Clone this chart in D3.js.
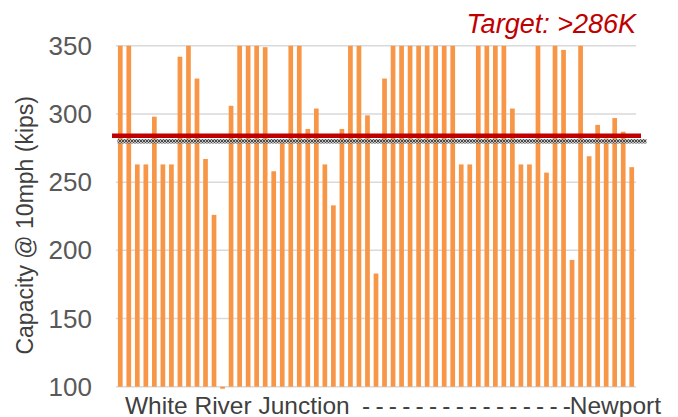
<!DOCTYPE html>
<html>
<head>
<meta charset="utf-8">
<script src="https://cdn.jsdelivr.net/npm/d3@7"></script>
<style>
  body { margin: 0; background: #fff; }
  svg { display: block; }
  text { font-family: "Liberation Sans", Arial, sans-serif; }
</style>
</head>
<body>
<svg id="chart" width="678" height="417"></svg>
<script>
// bridge capacity per structure, White River Junction -> Newport (kips, clipped at 350)
const capacity = [
  350, 350, 263, 263, 298, 263, 263, 342, 350, 326,
  267, 226, 98.5, 306, 350, 350, 350, 349, 258, 280,
  350, 350, 289, 304, 263, 233, 289, 350, 350, 299,
  183, 326, 350, 350, 350, 350, 350, 350, 350, 350,
  263, 263, 350, 350, 350, 350, 304, 263, 263, 350,
  257, 350, 347, 193, 350, 269, 292, 282, 297, 287,
  261
];
const yTicks = [100, 150, 200, 250, 300, 350];
const targetLine = [284];     // red target line as drawn
const referenceBand = [280];  // hatched reference band
const targetLabel = "Target: >286K";
const yTitle = "Capacity @ 10mph (kips)";
const endLabels = ["White River Junction", "Newport"];
const dashCount = 16;

const margin = { top: 45.8, right: 42, bottom: 30.3, left: 116 };
const W = 678, H = 417;

const svg = d3.select("#chart");

const x = d3.scaleBand()
  .domain(d3.range(capacity.length))
  .range([margin.left, W - margin.right])
  .paddingInner(0.45)
  .paddingOuter(0.225);

const y = d3.scaleLinear()
  .domain([100, 350])
  .range([H - margin.bottom, margin.top]);

// hatch pattern for the reference band
const defs = svg.append("defs");
const pat = defs.append("pattern")
  .attr("id", "hatch")
  .attr("patternUnits", "userSpaceOnUse")
  .attr("width", 3).attr("height", 3);
pat.append("rect").attr("width", 3).attr("height", 3).attr("fill", "#bdbdbd").attr("opacity", 0.9);
[[0, 0], [2, 0], [1, 1], [0, 2], [2, 2]].forEach(p => {
  pat.append("rect").attr("x", p[0]).attr("y", p[1]).attr("width", 1).attr("height", 1).attr("fill", "#4d4d4d");
});

// gridlines
svg.append("g")
  .selectAll("line")
  .data(yTicks)
  .join("line")
  .attr("x1", margin.left)
  .attr("x2", W - margin.right)
  .attr("y1", d => y(d))
  .attr("y2", d => y(d))
  .attr("stroke", "#d9d9d9")
  .attr("stroke-width", 1.5);

// y tick labels
svg.append("g")
  .selectAll("text")
  .data(yTicks)
  .join("text")
  .attr("x", 92)
  .attr("y", d => y(d))
  .attr("dy", "0.35em")
  .attr("text-anchor", "end")
  .attr("font-size", 26)
  .attr("fill", "#595959")
  .text(d => d);

// bars
svg.append("g")
  .selectAll("rect")
  .data(capacity)
  .join("rect")
  .attr("x", (d, i) => x(i))
  .attr("width", x.bandwidth())
  .attr("y", d => Math.min(y(Math.min(d, 350)), y(100)))
  .attr("height", d => Math.abs(y(100) - y(Math.min(d, 350))))
  .attr("fill", "#F79646");

// red target line
svg.append("g")
  .selectAll("line")
  .data(targetLine)
  .join("line")
  .attr("x1", x.range()[0] - 4)
  .attr("x2", x.range()[1] + 5)
  .attr("y1", d => y(d))
  .attr("y2", d => y(d))
  .attr("stroke", "#C00000")
  .attr("stroke-width", 4.6);

// hatched band
svg.append("g")
  .selectAll("rect")
  .data(referenceBand)
  .join("rect")
  .attr("x", x.range()[0] + 1.5)
  .attr("width", x.range()[1] - x.range()[0] + 9)
  .attr("y", d => y(d) - 2.2)
  .attr("height", 4.4)
  .attr("fill", "url(#hatch)");

// target label
svg.append("text")
  .attr("x", 636)
  .attr("y", 33)
  .attr("text-anchor", "end")
  .attr("font-size", 27)
  .attr("font-style", "italic")
  .attr("fill", "#C00000")
  .text(targetLabel);

// y axis title
svg.append("text")
  .attr("transform", `translate(33, ${(margin.top + H - margin.bottom) / 2 + 9}) rotate(-90)`)
  .attr("text-anchor", "middle")
  .attr("font-size", 23)
  .attr("fill", "#404040")
  .text(yTitle);

// x axis end labels with dashed run between them
const xl = svg.append("g")
  .attr("font-size", 24.5)
  .attr("fill", "#404040");
xl.append("text")
  .attr("x", 125)
  .attr("y", 414)
  .text(endLabels[0]);
xl.append("text")
  .attr("x", 362)
  .attr("y", 414)
  .attr("textLength", 209)
  .attr("lengthAdjust", "spacing")
  .text(d3.range(dashCount).map(() => "-").join(" "));
xl.append("text")
  .attr("x", 661)
  .attr("y", 414)
  .attr("text-anchor", "end")
  .text(endLabels[1]);
</script>
</body>
</html>
